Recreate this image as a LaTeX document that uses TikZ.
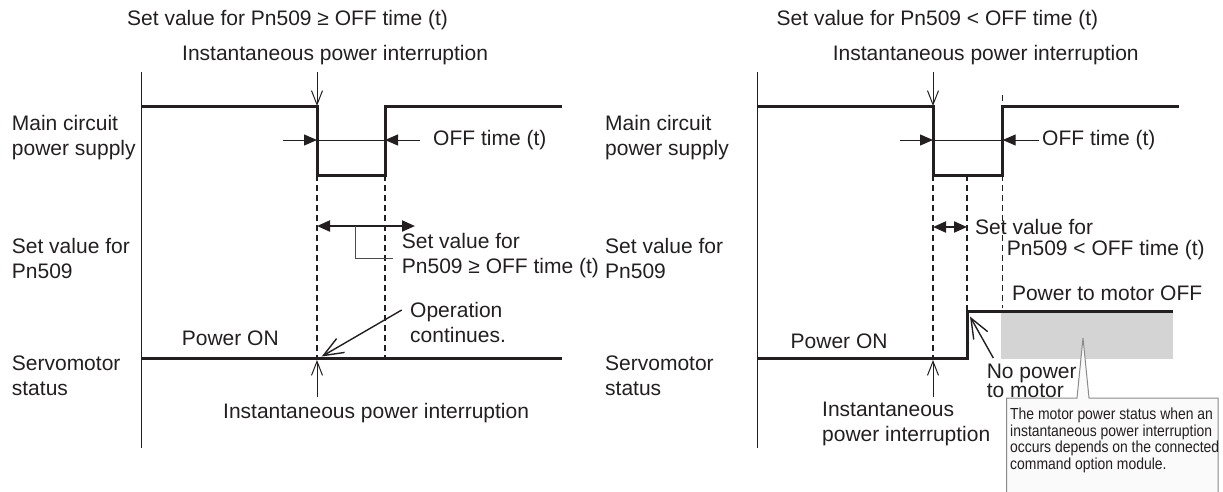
\documentclass[tikz,border=0pt]{standalone}
\usepackage{fontspec}
\setmainfont{Liberation Sans}
\newfontfamily\narrowfont[FakeStretch=0.87]{Liberation Sans}
\usepackage{xcolor}
\usetikzlibrary{arrows.meta,positioning}
\definecolor{inkc}{HTML}{231F20}
\definecolor{shadec}{HTML}{D4D4D4}
\definecolor{boxc}{HTML}{FAFAFA}
\definecolor{edgec}{HTML}{8A8A8A}
\tikzset{
  sig/.style={line width=3pt,inkc},
  thn/.style={line width=1pt,inkc},
  dsh/.style={line width=1.3pt,inkc,dash pattern=on 6pt off 4pt},
  ptr/.style={thn,-{Straight Barb[length=14pt,width=11pt]}},
  lptr/.style={line width=1.4pt,inkc,-{Straight Barb[length=20pt,width=16pt]}},
  offar/.style={thn,-{Triangle[length=13pt,width=11pt]}},
  dbl/.style={line width=2pt,inkc,{Triangle[length=13pt,width=11pt]}-{Triangle[length=13pt,width=11pt]}},
  lbl/.style={inner sep=0pt,anchor=west,inkc,align=left,font=\fontsize{21}{25}\selectfont},
  callout/.style={line width=1pt,draw=edgec,fill=boxc}
}
\begin{document}
\begin{tikzpicture}[x=1pt,y=-1pt]
\useasboundingbox (0,0) rectangle (1223,491);
% left: Pn509 >= OFF time
\node[lbl] (ltitle) at (127,20) {Set value for Pn509 ≥ OFF time (t)};
\node[lbl] (lint) at (182,55) {Instantaneous power interruption};
\node[lbl] (lrowa) at (11.7,138) {Main circuit\\power supply};
\node[lbl] (lrowb) at (11.7,258) {Set value for\\Pn509};
\node[lbl] (lrowc) at (11.7,376) {Servomotor\\status};
\coordinate (lax1) at (141.7,72); \coordinate (lax2) at (141.7,448);
\coordinate (ldn) at (317,72);
\coordinate (la) at (141.7,106); \coordinate (lb) at (317,106);
\coordinate (lc) at (317,175); \coordinate (ld) at (385,175);
\coordinate (le) at (385,106); \coordinate (lf) at (561.7,106);
\draw[thn] (lax1) -- (lax2);
\draw[ptr] (ldn) -- (lb);
\draw[sig] (la) -- (lb) -- (lc) -- (ld) -- (le) -- (lf);
\coordinate (loffa) at (317,140); \coordinate (loffb) at (385,140);
\coordinate (loffl) at (282.7,140); \coordinate (loffr) at (420,140);
\draw[thn] (loffa) -- (loffb);
\draw[offar] (loffl) -- (loffa);
\draw[offar] (loffr) -- (loffb);
\node[lbl] (loff) at (433,140) {OFF time (t)};
\coordinate (ls1) at (141.7,358); \coordinate (ls2) at (561.7,358);
\coordinate (ldc) at (317,358); \coordinate (lde) at (385,358);
\draw[dsh] (lc) -- (ldc);
\draw[dsh] (ld) -- (lde);
\coordinate (lsa) at (317,226); \coordinate (lsb) at (415,226);
\draw[dbl] (lsa) -- (lsb);
\coordinate (lbr1) at (355,226); \coordinate (lbr2) at (355,258); \coordinate (lbr3) at (393,258);
\draw[line width=1pt,black!70] (lbr1) -- (lbr2) -- (lbr3);
\node[lbl] (lset) at (401.7,256) {Set value for\\Pn509 ≥ OFF time (t)};
\draw[sig] (ls1) -- (ls2);
\node[lbl] (lon) at (181.7,338) {Power ON};
\node[lbl] (lop) at (410,322) {Operation\\continues.};
\coordinate (lopa) at (401.7,310); \coordinate (lopb) at (321.7,356.5);
\draw[lptr] (lopa) -- (lopb);
\coordinate (lup) at (317,397); \coordinate (lupt) at (317,360);
\draw[ptr] (lup) -- (lupt);
\node[lbl] (lint2) at (223,413) {Instantaneous power interruption};
% right: Pn509 < OFF time
\node[lbl] (rtitle) at (776.5,20) {Set value for Pn509 < OFF time (t)};
\node[lbl] (rint) at (832.6,55) {Instantaneous power interruption};
\node[lbl] (rrowa) at (605,138) {Main circuit\\power supply};
\node[lbl] (rrowb) at (605,258) {Set value for\\Pn509};
\node[lbl] (rrowc) at (605,376) {Servomotor\\status};
\coordinate (rax1) at (757,72); \coordinate (rax2) at (757,448);
\coordinate (rdn) at (933,72);
\coordinate (ra) at (757,106); \coordinate (rb) at (933,106);
\coordinate (rc) at (933,175); \coordinate (rd) at (1002.7,175);
\coordinate (re) at (1002.7,106); \coordinate (rf) at (1179,106);
\draw[thn] (rax1) -- (rax2);
\draw[ptr] (rdn) -- (rb);
\coordinate (rtk1) at (1002.7,95); \coordinate (rtk2) at (1002.7,308);
\draw[dsh] (rtk1) -- (rtk2);
\draw[sig] (ra) -- (rb) -- (rc) -- (rd) -- (re) -- (rf);
\coordinate (roffa) at (933,140); \coordinate (roffb) at (1002.7,140);
\coordinate (roffl) at (899.5,140); \coordinate (roffr) at (1038.6,140);
\draw[thn] (roffa) -- (roffb);
\draw[offar] (roffl) -- (roffa);
\draw[offar] (roffr) -- (roffb);
\node[lbl] (roff) at (1042,140) {OFF time (t)};
\coordinate (rm1) at (967,175); \coordinate (rm2) at (967,311);
\coordinate (rdc) at (933,358);
\draw[dsh] (rc) -- (rdc);
\draw[dsh] (rm1) -- (rm2);
\coordinate (rsa) at (933,227); \coordinate (rsb) at (967,227);
\draw[dbl] (rsa) -- (rsb);
\node[lbl] (rset) at (975,227) {Set value for};
\node[lbl] (rset2) at (1006.7,250) {Pn509 < OFF time (t)};
\coordinate (rg1) at (1000.7,313); \coordinate (rg2) at (1172.7,359);
\fill[shadec] (rg1) rectangle (rg2);
\coordinate (rs1) at (757,358); \coordinate (rs2) at (967,358);
\coordinate (rs3) at (1172.7,311);
\draw[sig] (rs1) -- (rs2) -- (rm2) -- (rs3);
\node[lbl] (rpoff) at (1011.8,293) {Power to motor OFF};
\node[lbl] (ron) at (790.5,341.7) {Power ON};
\coordinate (rup) at (933,397); \coordinate (rupt) at (933,360);
\draw[ptr] (rup) -- (rupt);
\node[lbl] (rint2) at (822,424) {Instantaneous\\power interruption};
\node[lbl,font=\fontsize{21}{16}\selectfont] (rnop) at (986.6,381) {No power\\to motor};
\coordinate (rnpa) at (993.3,358); \coordinate (rnpb) at (970,316.5);
\draw[lptr] (rnpa) -- (rnpb);
% callout
\coordinate (cb1) at (1006.7,496); \coordinate (cb2) at (1006.7,398);
\coordinate (cp1) at (1077,398); \coordinate (cap) at (1083,338);
\coordinate (cp2) at (1089,398); \coordinate (cb3) at (1218,398);
\coordinate (cb4) at (1218,496);
\draw[callout] (cb1) -- (cb2) -- (cp1) -- (cap) -- (cp2) -- (cb3) -- (cb4);
\node[inner sep=0pt,anchor=north west,align=left,inkc,font=\narrowfont\fontsize{16}{16.4}\selectfont] (cnote) at (1010,408)
  {The motor power status when an\\instantaneous power interruption\\occurs depends on the connected\\command option module.};
\end{tikzpicture}
\end{document}
